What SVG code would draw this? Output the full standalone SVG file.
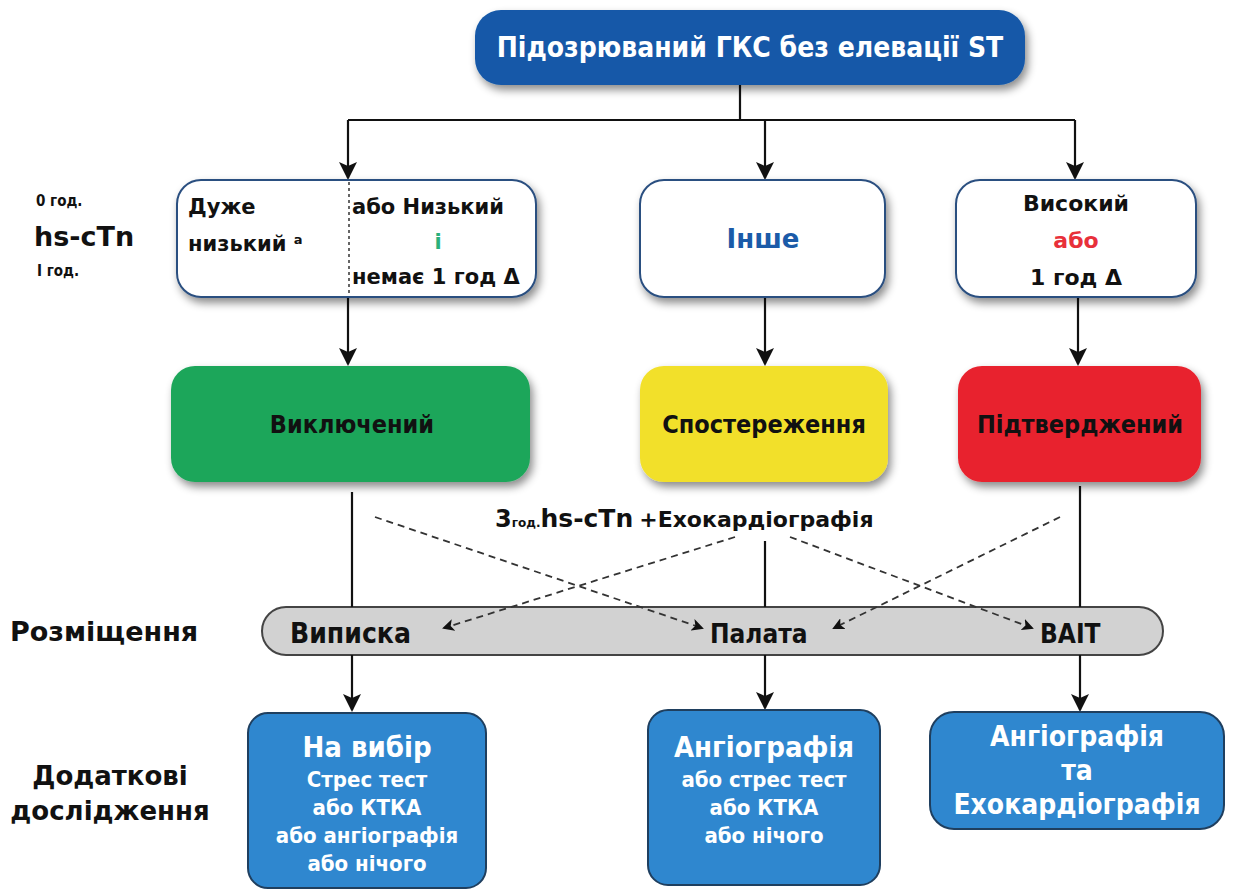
<svg xmlns="http://www.w3.org/2000/svg" width="1234" height="892" viewBox="0 0 1234 892">
  <style>
    .cond { font-family: "DejaVu Sans Condensed", "Liberation Sans Narrow", "Liberation Sans", sans-serif; font-weight: bold; }
    .wide { font-family: "DejaVu Sans", "Verdana", sans-serif; font-weight: bold; }
    .ln { stroke: #111; stroke-width: 2.2; fill: none; }
    .dash { stroke: #333; stroke-width: 1.8; fill: none; stroke-dasharray: 7 5; }
    .white { fill: #fff; stroke: #2b4f80; stroke-width: 2; }
    .blue { fill: #2f87cf; stroke: #1f3f5f; stroke-width: 2; }
    .mid { text-anchor: middle; }
  </style>
  <defs>
    <filter id="shadow" x="-10%" y="-10%" width="125%" height="135%">
      <feDropShadow dx="3" dy="5" stdDeviation="4" flood-color="#000" flood-opacity="0.45"/>
    </filter>
    <marker id="arr" viewBox="0 0 12 12" refX="10" refY="6" markerWidth="12" markerHeight="12" markerUnits="userSpaceOnUse" orient="auto">
      <path d="M0,0 L12,6 L0,12 L3,6 z" fill="#111"/>
    </marker>
    <marker id="arrBig" viewBox="0 0 18 18" refX="16" refY="9" markerWidth="18" markerHeight="18" markerUnits="userSpaceOnUse" orient="auto">
      <path d="M0,0 L18,9 L0,18 L4,9 z" fill="#111"/>
    </marker>
  </defs>

  <rect width="1234" height="892" fill="#fff"/>

  <!-- disposition band sits under the connectors that land on it -->
  <g id="disposition">
    <rect x="262" y="607" width="901" height="48" rx="24" fill="#d2d2d2" stroke="#444" stroke-width="2"/>
    <text x="290" y="643" class="cond" font-size="28" fill="#111">Виписка</text>
    <text x="710" y="643" class="cond" font-size="26" fill="#111">Палата</text>
    <text x="1040" y="643" class="cond" font-size="26" fill="#111">ВАІТ</text>
  </g>

  <!-- connectors -->
  <g id="connectors">
    <path class="ln" d="M740,85 V120 M348,120 H1075"/>
    <path class="ln" d="M348,120 V178" marker-end="url(#arrBig)"/>
    <path class="ln" d="M765,120 V178" marker-end="url(#arrBig)"/>
    <path class="ln" d="M1075,120 V178" marker-end="url(#arrBig)"/>
    <path class="ln" d="M348,298 V364" marker-end="url(#arrBig)"/>
    <path class="ln" d="M765,298 V364" marker-end="url(#arrBig)"/>
    <path class="ln" d="M1078,298 V364" marker-end="url(#arrBig)"/>
    <path class="ln" d="M352,492 V607"/>
    <path class="ln" d="M765,541 V607"/>
    <path class="ln" d="M1080,486 V607"/>
    <path class="dash" d="M375,517 L702,628" marker-end="url(#arr)"/>
    <path class="dash" d="M735,537 L444,628" marker-end="url(#arr)"/>
    <path class="dash" d="M790,537 L1032,628" marker-end="url(#arr)"/>
    <path class="dash" d="M1060,517 L834,628" marker-end="url(#arr)"/>
    <path class="ln" d="M352,655 V710" marker-end="url(#arrBig)"/>
    <path class="ln" d="M765,655 V708" marker-end="url(#arrBig)"/>
    <path class="ln" d="M1080,655 V710" marker-end="url(#arrBig)"/>
  </g>

  <!-- start node -->
  <g id="start">
    <rect x="475" y="10" width="550" height="75" rx="26" fill="#1659a8" filter="url(#shadow)"/>
    <text x="750" y="57" class="cond mid" font-size="28" fill="#fff">Підозрюваний ГКС без елевації ST</text>
  </g>

  <!-- row labels -->
  <g id="row-labels">
    <text x="36" y="206" class="cond" font-size="15" fill="#111">0 год.</text>
    <text x="34" y="246" class="wide" font-size="27" fill="#111">hs-cTn</text>
    <text x="37" y="276" class="cond" font-size="15" fill="#111">I год.</text>
    <text x="10" y="641" class="wide" font-size="27" fill="#111">Розміщення</text>
    <text x="110" y="785" class="wide mid" font-size="26" fill="#111">Додаткові</text>
    <text x="110" y="820" class="wide mid" font-size="26" fill="#111">дослідження</text>
  </g>

  <!-- 0/1 h result boxes -->
  <g id="low">
    <rect x="177" y="180" width="359" height="117" rx="24" class="white" filter="url(#shadow)"/>
    <line x1="349" y1="182" x2="349" y2="296" stroke="#333" stroke-width="1.5" stroke-dasharray="3 3"/>
    <text x="188" y="214" class="wide" font-size="21" fill="#111">Дуже</text>
    <text x="188" y="251" class="wide" font-size="21" fill="#111">низький <tspan font-size="13" dy="-7">a</tspan></text>
    <text x="352" y="214" class="wide" font-size="21" fill="#111">або Низький</text>
    <text x="438" y="249" class="wide mid" font-size="21" fill="#2bb07a">і</text>
    <text x="352" y="284" class="wide" font-size="21" fill="#111">немає 1 год Δ</text>
  </g>
  <g id="other">
    <rect x="640" y="180" width="245" height="117" rx="24" class="white" filter="url(#shadow)"/>
    <text x="763" y="248" class="wide mid" font-size="26" fill="#1b5ba8">Інше</text>
  </g>
  <g id="high">
    <rect x="956" y="180" width="240" height="117" rx="24" class="white" filter="url(#shadow)"/>
    <text x="1076" y="211" class="wide mid" font-size="22" fill="#111">Високий</text>
    <text x="1076" y="248" class="wide mid" font-size="22" fill="#e8303a">або</text>
    <text x="1076" y="285" class="wide mid" font-size="22" fill="#111">1 год Δ</text>
  </g>

  <!-- outcome boxes -->
  <g id="ruled-out">
    <rect x="171" y="366" width="359" height="116" rx="24" fill="#1fa65a" filter="url(#shadow)"/>
    <text x="352" y="433" class="cond mid" font-size="25" fill="#111">Виключений</text>
  </g>
  <g id="observe">
    <rect x="640" y="366" width="248" height="116" rx="24" fill="#f2e02a" filter="url(#shadow)"/>
    <text x="764" y="433" class="cond mid" font-size="25" fill="#111">Спостереження</text>
  </g>
  <g id="ruled-in">
    <rect x="958" y="366" width="243" height="116" rx="24" fill="#e8242e" filter="url(#shadow)"/>
    <text x="1080" y="433" class="cond mid" font-size="25" fill="#111">Підтверджений</text>
  </g>

  <!-- 3 h test label -->
  <g id="test-3h">
    <text x="495" y="527" class="wide" fill="#111"><tspan font-size="24">3</tspan><tspan font-size="12">год.</tspan><tspan font-size="25">hs-cTn</tspan><tspan font-size="22" dx="6">+Ехокардіографія</tspan></text>
  </g>

  <!-- further testing -->
  <g id="test-optional">
    <rect x="248" y="713" width="238" height="175" rx="20" class="blue"/>
    <text x="367" y="757" class="cond mid" font-size="29" fill="#fff">На вибір</text>
    <text x="367" y="787" class="cond mid" font-size="22" fill="#fff">Стрес тест</text>
    <text x="367" y="815" class="cond mid" font-size="22" fill="#fff">або КТКА</text>
    <text x="367" y="843" class="cond mid" font-size="22" fill="#fff">або ангіографія</text>
    <text x="367" y="871" class="cond mid" font-size="22" fill="#fff">або нічого</text>
  </g>
  <g id="test-ward">
    <rect x="648" y="710" width="232" height="175" rx="20" class="blue"/>
    <text x="764" y="757" class="cond mid" font-size="29" fill="#fff">Ангіографія</text>
    <text x="764" y="787" class="cond mid" font-size="22" fill="#fff">або стрес тест</text>
    <text x="764" y="815" class="cond mid" font-size="22" fill="#fff">або КТКА</text>
    <text x="764" y="843" class="cond mid" font-size="22" fill="#fff">або нічого</text>
  </g>
  <g id="test-icu">
    <rect x="930" y="712" width="294" height="117" rx="24" class="blue"/>
    <text x="1077" y="746" class="cond mid" font-size="28" fill="#fff">Ангіографія</text>
    <text x="1077" y="780" class="cond mid" font-size="28" fill="#fff">та</text>
    <text x="1077" y="814" class="cond mid" font-size="28" fill="#fff">Ехокардіографія</text>
  </g>
</svg>
